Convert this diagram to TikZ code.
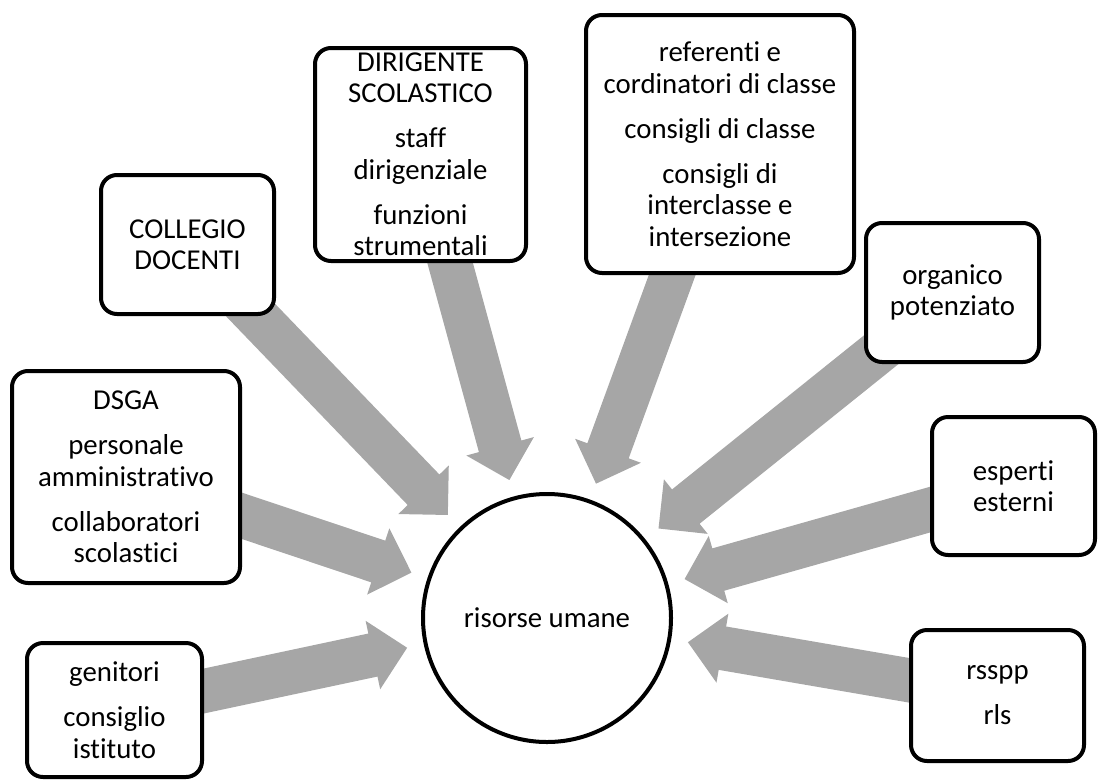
\documentclass[tikz,border=0pt]{standalone}
\usepackage{fontspec}
\setmainfont{Carlito}[Ligatures={NoCommon}]
\usetikzlibrary{calc,backgrounds}
\definecolor{arrowgray}{RGB}{166,166,166}
\begin{document}
\begin{tikzpicture}[x=1pt,y=-1pt,
  box/.style={draw=black, line width=4pt, rounded corners=16pt, fill=white,
    inner sep=0pt, align=center, font=\fontsize{28.8}{31.5}\selectfont},
  hub/.style={draw=black, line width=4pt, circle, fill=white,
    minimum size=248pt, inner sep=0pt, font=\fontsize{28.8}{31.5}\selectfont},
  blockarrow/.style={fill=arrowgray}]
\useasboundingbox (0,0) rectangle (1098,780);

\node[hub] (rc) at (547,618) {risorse umane};

\node[box, minimum width=173pt, minimum height=139pt] (collegio) at (187.5,244.5)
  {COLLEGIO\\DOCENTI};
\node[box, minimum width=211pt, minimum height=213pt] (dirigente) at (420.5,154.5)
  {DIRIGENTE\\SCOLASTICO\\[13.5pt]staff\\dirigenziale\\[13.5pt]funzioni\\strumentali};
\node[box, minimum width=268pt, minimum height=258pt] (referenti) at (720,144)
  {referenti e\\cordinatori di classe\\[13.5pt]consigli di classe\\[13.5pt]consigli di\\interclasse e\\intersezione};
\node[box, minimum width=173pt, minimum height=139pt] (organico) at (952.5,292.5)
  {organico\\potenziato};
\node[box, minimum width=228pt, minimum height=212pt] (dsga) at (126,477)
  {DSGA\\[13.5pt]personale\\amministrativo\\[13.5pt]collaboratori\\scolastici};
\node[box, minimum width=163pt, minimum height=138pt] (esperti) at (1013.5,486)
  {esperti\\esterni};
\node[box, minimum width=175pt, minimum height=134pt] (genitori) at (114.5,710)
  {genitori\\[13.5pt]consiglio\\istituto};
\node[box, minimum width=173pt, minimum height=131pt] (rsspp) at (997.5,695.5)
  {rsspp\\[13.5pt]rls};

\begin{scope}[on background layer]
\foreach \b in {collegio,dirigente,referenti,organico,dsga,esperti,genitori,rsspp}{
  \coordinate (\b-tip) at ($(rc.center)!143pt!(\b.center)$);
  \coordinate (\b-base) at ($(\b-tip)!35pt!(\b.center)$);
  \fill[blockarrow] ($(\b.center)!22pt!90:(\b-base)$)
    -- ($(\b-base)!22pt!-90:(\b.center)$)
    -- ($(\b-base)!35pt!-90:(\b.center)$)
    -- (\b-tip)
    -- ($(\b-base)!35pt!90:(\b.center)$)
    -- ($(\b-base)!22pt!90:(\b.center)$)
    -- ($(\b.center)!22pt!-90:(\b-base)$) -- cycle;
}
\end{scope}
\end{tikzpicture}
\end{document}
